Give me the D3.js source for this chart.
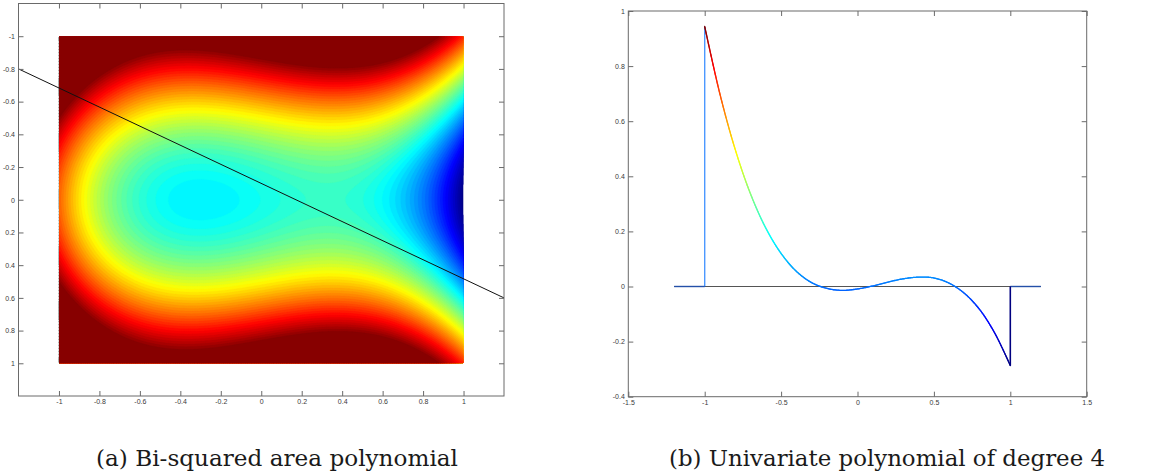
<!DOCTYPE html>
<html><head><meta charset="utf-8">
<script src="https://cdn.jsdelivr.net/npm/d3@7"></script>
<style>body{margin:0;background:#fff}svg{display:block}</style>
</head><body>
<svg id="c" width="1151" height="473"></svg>
<script>
// ---------------- data ----------------
// (a) field T(x,y) = P0(x) + P2(x)*y^2 + P4(x)*y^4  (coefficients in ascending powers of x),
// value mapped onto the jet colour map, clipped to [0,1]
const fieldP0 = [0.3913, 0.1604, 0.0242, -0.5503, -0.0254];
const fieldP2 = [0.99, 0.10];
const fieldP4 = [-0.25];
const fieldExtent = [-1, 1];
const fieldLevels = 64;
const cutLineX = [-1.2, 1.2];
const cutLineY = [-0.8, 0.6];
const leftXTicks = [-1, -0.8, -0.6, -0.4, -0.2, 0, 0.2, 0.4, 0.6, 0.8, 1];
const leftYTicks = [-1, -0.8, -0.6, -0.4, -0.2, 0, 0.2, 0.4, 0.6, 0.8, 1];

// (b) polynomial along the cut line
const curveX = [-1, -0.9, -0.8, -0.7, -0.6, -0.5, -0.4, -0.3, -0.2, -0.1, 0, 0.1, 0.2, 0.3, 0.4, 0.5, 0.6, 0.7, 0.8, 0.9, 1];
const curveY = [0.944, 0.698, 0.497, 0.336, 0.212, 0.120, 0.055, 0.014, -0.007, -0.014, -0.009, 0.002, 0.016, 0.028, 0.034, 0.031, 0.012, -0.025, -0.084, -0.171, -0.287];
const outsideX = [-1.2, 1.2];
const rightXTicks = [-1.5, -1, -0.5, 0, 0.5, 1, 1.5];
const rightYTicks = [-0.4, -0.2, 0, 0.2, 0.4, 0.6, 0.8, 1];

const captions = ["(a) Bi-squared area polynomial", "(b) Univariate polynomial of degree 4"];

// ---------------- helpers ----------------
const clamp01 = v => Math.max(0, Math.min(1, v));
function jet(t) {
  t = clamp01(t);
  const r = clamp01(1.5 - Math.abs(4 * t - 3));
  const g = clamp01(1.5 - Math.abs(4 * t - 2));
  const b = clamp01(1.5 - Math.abs(4 * t - 1));
  return d3.rgb(r * 255, g * 255, b * 255).formatHex();
}
const poly = (c, x) => c.reduceRight((acc, k) => acc * x + k, 0);
const field = (x, y) => poly(fieldP0, x) + poly(fieldP2, x) * y * y + poly(fieldP4, x) * y * y * y * y;
const fmt = d => String(d);

const svg = d3.select("#c");
const axisColor = "#6a6a6a";

function styleAxis(g) {
  g.select(".domain").remove();
  g.selectAll(".tick line").attr("stroke", axisColor);
  g.selectAll(".tick text").attr("fill", "#3a3a3a")
    .style("font-family", "'Liberation Sans', Arial, sans-serif").style("font-size", "7px");
}

function frame(xs, ys, xt, yt) {
  const g = svg.append("g");
  const [x0, x1] = xs.range(), [yb, ytop] = ys.range();
  g.append("g").attr("transform", `translate(0,${yb})`)
    .call(d3.axisBottom(xs).tickValues(xt).tickSize(-5).tickSizeOuter(0).tickPadding(3.5).tickFormat(fmt)).call(styleAxis);
  g.append("g").attr("transform", `translate(0,${ytop})`)
    .call(d3.axisTop(xs).tickValues(xt).tickSize(-5).tickSizeOuter(0).tickFormat("")).call(styleAxis);
  g.append("g").attr("transform", `translate(${x0},0)`)
    .call(d3.axisLeft(ys).tickValues(yt).tickSize(-5).tickSizeOuter(0).tickPadding(3.5).tickFormat(fmt)).call(styleAxis);
  g.append("g").attr("transform", `translate(${x1},0)`)
    .call(d3.axisRight(ys).tickValues(yt).tickSize(-5).tickSizeOuter(0).tickFormat("")).call(styleAxis);
  g.append("rect").attr("x", x0).attr("y", Math.min(yb, ytop)).attr("width", x1 - x0).attr("height", Math.abs(yb - ytop))
    .attr("fill", "none").attr("stroke", axisColor).attr("stroke-width", 1);
}

// ---------------- (a) left panel ----------------
const lx = d3.scaleLinear([-1.2, 1.2], [18.5, 504]);
const ly = d3.scaleLinear([1.2, -1.2], [396, 3.5]); // reversed: -1.2 at top

{
  const g = svg.append("g");
  const n = 220;
  const [a0, a1] = fieldExtent;
  const vals = new Float64Array(n * n);
  for (let j = 0; j < n; j++) {
    const y = a0 + (a1 - a0) * (j + 0.5) / n;
    for (let i = 0; i < n; i++) {
      const x = a0 + (a1 - a0) * (i + 0.5) / n;
      vals[j * n + i] = field(x, y);
    }
  }
  const thresholds = d3.range(1, fieldLevels).map(k => k / fieldLevels);
  const contours = d3.contours().size([n, n]).thresholds(thresholds)(vals);
  const proj = d3.geoTransform({
    point(u, v) { this.stream.point(lx(a0 + (a1 - a0) * u / n), ly(a0 + (a1 - a0) * v / n)); }
  });
  const path = d3.geoPath(proj);
  svg.append("clipPath").attr("id", "fieldClip").append("rect")
    .attr("x", lx(a0)).attr("y", ly(a0)).attr("width", lx(a1) - lx(a0)).attr("height", ly(a1) - ly(a0));
  const fg = g.append("g").attr("clip-path", "url(#fieldClip)");
  fg.append("rect").attr("x", lx(a0)).attr("y", ly(a0)).attr("width", lx(a1) - lx(a0)).attr("height", ly(a1) - ly(a0))
    .attr("fill", jet(0.5 / fieldLevels));
  fg.selectAll("path.band").data(contours).join("path")
    .attr("d", path)
    .attr("fill", d => jet(d.value + 0.5 / fieldLevels))
    .attr("stroke", d => jet(d.value + 0.5 / fieldLevels))
    .attr("stroke-width", 0.3);
  frame(lx, ly, leftXTicks, leftYTicks);
  g.append("line")
    .attr("x1", lx(cutLineX[0])).attr("y1", ly(cutLineY[0]))
    .attr("x2", lx(cutLineX[1])).attr("y2", ly(cutLineY[1]))
    .attr("stroke", "#111").attr("stroke-width", 1);
}

// ---------------- (b) right panel ----------------
const rx = d3.scaleLinear([-1.5, 1.5], [628.3, 1086.7]);
const ry = d3.scaleLinear([-0.4, 1], [396.7, 11]);
{
  frame(rx, ry, rightXTicks, rightYTicks);
  const g = svg.append("g");
  const [vmin, vmax] = d3.extent(curveY);
  const cnorm = d3.scaleLinear([vmin, vmax], [0, 1]).clamp(true);
  const zeroCol = jet(cnorm(0));
  // zero line
  g.append("line").attr("x1", rx(outsideX[0])).attr("x2", rx(outsideX[1]))
    .attr("y1", ry(0)).attr("y2", ry(0)).attr("stroke", "#555").attr("stroke-width", 1);
  // outside segments
  const xFirst = curveX[0], xLast = curveX[curveX.length - 1];
  [[outsideX[0], xFirst], [xLast, outsideX[1]]].forEach(([a, b]) => {
    g.append("line").attr("x1", rx(a)).attr("x2", rx(b)).attr("y1", ry(0)).attr("y2", ry(0))
      .attr("stroke", "#2450a8").attr("stroke-width", 1.4);
  });
  // vertical jumps
  g.append("line").attr("x1", rx(xFirst)).attr("x2", rx(xFirst)).attr("y1", ry(0)).attr("y2", ry(curveY[0]))
    .attr("stroke", zeroCol).attr("stroke-opacity", 0.7).attr("stroke-width", 1.4);
  g.append("line").attr("x1", rx(xLast)).attr("x2", rx(xLast)).attr("y1", ry(0)).attr("y2", ry(curveY[curveY.length - 1]))
    .attr("stroke", jet(cnorm(vmin))).attr("stroke-width", 1.6);
  // coloured curve
  const pts = curveX.map((x, i) => [rx(x), ry(curveY[i])]);
  const lineGen = d3.line().curve(d3.curveCatmullRom.alpha(0.5));
  const hidden = g.append("path").attr("d", lineGen(pts)).attr("fill", "none").attr("stroke", "none");
  const node = hidden.node();
  const L = node.getTotalLength();
  const segs = [];
  let prev = node.getPointAtLength(0);
  for (let s = 1; s < L + 1; s += 1) {
    const p = node.getPointAtLength(Math.min(s, L));
    segs.push({ x1: prev.x, y1: prev.y, x2: p.x, y2: p.y, v: ry.invert((prev.y + p.y) / 2) });
    prev = p;
  }
  g.selectAll("line.seg").data(segs).join("line").attr("class", "seg")
    .attr("x1", d => d.x1).attr("y1", d => d.y1).attr("x2", d => d.x2).attr("y2", d => d.y2)
    .attr("stroke", d => jet(cnorm(d.v))).attr("stroke-width", 1.3).attr("stroke-linecap", "round");
  hidden.remove();
}

// ---------------- captions ----------------
const capPos = [[96, 362], [669, 436]];
svg.append("g").selectAll("text").data(captions).join("text")
  .attr("fill", "#1a1a1a")
  .style("font-family", "'DejaVu Serif', serif").style("font-size", "23px")
  .attr("x", (d, i) => capPos[i][0]).attr("y", 465.5)
  .attr("textLength", (d, i) => capPos[i][1]).attr("lengthAdjust", "spacingAndGlyphs")
  .text(d => d);
</script>
</body></html>
